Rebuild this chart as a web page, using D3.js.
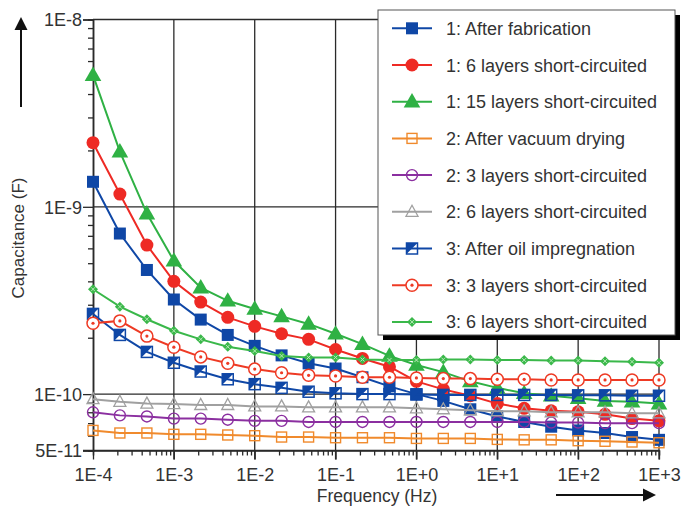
<!DOCTYPE html>
<html>
<head>
<meta charset="utf-8">
<script src="https://cdn.jsdelivr.net/npm/d3@7"></script>
<style>
  html, body { margin: 0; padding: 0; background: #fff; }
  svg { display: block; font-family: "Liberation Sans", Arial, sans-serif; }
</style>
</head>
<body>
<svg id="chart" width="682" height="512"></svg>
<script>
// ---------- DATA ----------
const frequencies = [1e-4, 2.15e-4, 4.64e-4, 1e-3, 2.15e-3, 4.64e-3, 1e-2, 2.15e-2, 4.64e-2, 1e-1, 2.15e-1,
                     4.64e-1, 1, 2.15, 4.64, 10, 21.5, 46.4, 100, 215, 464, 1000];

const s1AfterFab   = [13.6e-10, 7.2e-10, 4.6e-10, 3.2e-10, 2.5e-10, 2.07e-10, 1.81e-10, 1.61e-10, 1.46e-10, 1.37e-10, 1.23e-10,
                      1.10e-10, 1.0e-10, 0.92e-10, 0.83e-10, 0.76e-10, 0.71e-10, 0.67e-10, 0.64e-10, 0.62e-10, 0.59e-10, 0.57e-10];
const s1Six        = [22e-10, 11.7e-10, 6.25e-10, 4.0e-10, 3.1e-10, 2.57e-10, 2.3e-10, 2.1e-10, 1.96e-10, 1.73e-10, 1.55e-10,
                      1.40e-10, 1.17e-10, 1.06e-10, 0.98e-10, 0.89e-10, 0.84e-10, 0.815e-10, 0.805e-10, 0.78e-10, 0.74e-10, 0.72e-10];
const s1Fifteen    = [50.5e-10, 19.7e-10, 9.2e-10, 5.15e-10, 3.7e-10, 3.15e-10, 2.85e-10, 2.6e-10, 2.37e-10, 2.1e-10, 1.85e-10,
                      1.60e-10, 1.43e-10, 1.31e-10, 1.17e-10, 1.08e-10, 1.01e-10, 0.98e-10, 0.95e-10, 0.92e-10, 0.91e-10, 0.89e-10];
const s2Vacuum     = [0.64e-10, 0.62e-10, 0.62e-10, 0.61e-10, 0.61e-10, 0.605e-10, 0.60e-10, 0.59e-10, 0.59e-10, 0.585e-10, 0.585e-10,
                      0.585e-10, 0.58e-10, 0.58e-10, 0.58e-10, 0.573e-10, 0.57e-10, 0.57e-10, 0.564e-10, 0.56e-10, 0.555e-10, 0.55e-10];
const s2Three      = [0.80e-10, 0.77e-10, 0.76e-10, 0.74e-10, 0.74e-10, 0.73e-10, 0.72e-10, 0.72e-10, 0.71e-10, 0.71e-10, 0.71e-10,
                      0.71e-10, 0.71e-10, 0.71e-10, 0.71e-10, 0.71e-10, 0.71e-10, 0.705e-10, 0.705e-10, 0.70e-10, 0.70e-10, 0.70e-10];
const s2Six        = [0.94e-10, 0.91e-10, 0.89e-10, 0.885e-10, 0.875e-10, 0.875e-10, 0.86e-10, 0.86e-10, 0.85e-10, 0.85e-10, 0.85e-10,
                      0.85e-10, 0.84e-10, 0.83e-10, 0.82e-10, 0.81e-10, 0.81e-10, 0.80e-10, 0.80e-10, 0.80e-10, 0.79e-10, 0.79e-10];
const s3Oil        = [2.68e-10, 2.07e-10, 1.68e-10, 1.47e-10, 1.32e-10, 1.20e-10, 1.13e-10, 1.08e-10, 1.03e-10, 1.01e-10, 1.0e-10,
                      1.0e-10, 0.995e-10, 0.99e-10, 0.99e-10, 0.99e-10, 0.99e-10, 0.99e-10, 0.985e-10, 0.985e-10, 0.98e-10, 0.98e-10];
const s3Three      = [2.39e-10, 2.46e-10, 2.04e-10, 1.78e-10, 1.58e-10, 1.46e-10, 1.36e-10, 1.30e-10, 1.26e-10, 1.25e-10, 1.23e-10,
                      1.23e-10, 1.22e-10, 1.21e-10, 1.21e-10, 1.20e-10, 1.20e-10, 1.19e-10, 1.19e-10, 1.19e-10, 1.19e-10, 1.19e-10];
const s3Six        = [3.63e-10, 2.93e-10, 2.51e-10, 2.18e-10, 1.96e-10, 1.79e-10, 1.70e-10, 1.60e-10, 1.57e-10, 1.57e-10, 1.53e-10,
                      1.52e-10, 1.52e-10, 1.53e-10, 1.53e-10, 1.52e-10, 1.52e-10, 1.51e-10, 1.51e-10, 1.50e-10, 1.49e-10, 1.47e-10];

const seriesNames = ["1: After fabrication", "1: 6 layers short-circuited", "1: 15 layers short-circuited",
                     "2: After vacuum drying", "2: 3 layers short-circuited", "2: 6 layers short-circuited",
                     "3: After oil impregnation", "3: 3 layers short-circuited", "3: 6 layers short-circuited"];
const seriesColors = ["#0f47a6", "#ee2a24", "#2fb144", "#f08a2c", "#8b2fa0", "#a0a0a0", "#0f47a6", "#ee3a24", "#3ab84a"];
const seriesMarkers = ["square", "circle", "triangle", "squareOpen", "circleOpen", "triangleOpen", "squareHalf", "circleDot", "diamond"];
const seriesValues = [s1AfterFab, s1Six, s1Fifteen, s2Vacuum, s2Three, s2Six, s3Oil, s3Three, s3Six];

const xTickValues = [1e-4, 1e-3, 1e-2, 1e-1, 1, 10, 100, 1000];
const xTickLabels = ["1E-4", "1E-3", "1E-2", "1E-1", "1E+0", "1E+1", "1E+2", "1E+3"];
const yTickValues = [1e-8, 1e-9, 1e-10, 5e-11];
const yTickLabels = ["1E-8", "1E-9", "1E-10", "5E-11"];
const xAxisTitle = "Frequency (Hz)";
const yAxisTitle = "Capacitance (F)";

// ---------- LAYOUT ----------
const svg = d3.select("#chart");
const plotL = 93, plotR = 659, plotT = 19.5, plotB = 450.5;
const x = d3.scaleLog().domain([1e-4, 1e3]).range([plotL, plotR]);
const y = d3.scaleLog().domain([5e-11, 1e-8]).range([plotB, plotT]);
const textColor = "#333";
const gridColor = "#2a2a2a";

// minor tick values
const xMinor = [];
for (let e = -4; e < 3; e++) for (let m = 2; m <= 9; m++) xMinor.push(m * Math.pow(10, e));
const yMinor = [];
for (let m = 6; m <= 9; m++) yMinor.push(m * 1e-11);
for (let e = -10; e < -8; e++) for (let m = 2; m <= 9; m++) yMinor.push(m * Math.pow(10, e));

// gridlines
const grid = svg.append("g");
grid.selectAll("line.v").data(xTickValues.slice(1)).enter().append("line")
  .attr("x1", d => x(d)).attr("x2", d => x(d)).attr("y1", plotT).attr("y2", plotB + 9)
  .attr("stroke", gridColor).attr("stroke-width", 1.3);
grid.selectAll("line.h").data([1e-8, 1e-9, 1e-10]).enter().append("line")
  .attr("x1", plotL).attr("x2", plotR).attr("y1", d => y(d)).attr("y2", d => y(d))
  .attr("stroke", gridColor).attr("stroke-width", 1.3);

// axes
const xAxisG = svg.append("g").attr("transform", `translate(0,${plotB})`)
  .call(d3.axisBottom(x).tickValues(xTickValues).tickFormat((d, i) => xTickLabels[i]).tickSize(9).tickPadding(9));
const xMinorG = svg.append("g").attr("transform", `translate(0,${plotB})`)
  .call(d3.axisBottom(x).tickValues(xMinor).tickFormat("").tickSize(5));
const yAxisG = svg.append("g").attr("transform", `translate(${plotL},0)`)
  .call(d3.axisLeft(y).tickValues(yTickValues).tickFormat((d, i) => yTickLabels[i]).tickSize(10).tickPadding(1));
const yMinorG = svg.append("g").attr("transform", `translate(${plotL},0)`)
  .call(d3.axisLeft(y).tickValues(yMinor).tickFormat("").tickSize(5));

[xAxisG, xMinorG, yAxisG, yMinorG].forEach(g => {
  g.select(".domain").attr("stroke", gridColor).attr("stroke-width", 1.5);
  g.selectAll(".tick line").attr("stroke", gridColor).attr("stroke-width", 1.3);
  g.selectAll(".tick text").attr("fill", textColor).style("font-size", "18px")
    .style("font-family", '"Liberation Sans", Arial, sans-serif');
});
xAxisG.select(".domain").attr("d", `M${plotL - 10},0H${plotR}`);
xAxisG.selectAll(".tick text").attr("dy", "0.68em");
yAxisG.selectAll(".tick text").attr("dy", "0.36em");

// axis titles
svg.append("text").attr("x", 377).attr("y", 502).attr("text-anchor", "middle")
  .attr("fill", textColor).style("font-size", "17.5px").text(xAxisTitle);
svg.append("text").attr("transform", "translate(24,238) rotate(-90)").attr("text-anchor", "middle")
  .attr("fill", textColor).style("font-size", "17px").text(yAxisTitle);

// arrows
svg.append("line").attr("x1", 21).attr("x2", 21).attr("y1", 107).attr("y2", 27)
  .attr("stroke", "#111").attr("stroke-width", 2);
svg.append("path").attr("d", "M21,17 L14.5,30 L27.5,30 Z").attr("fill", "#111");
svg.append("line").attr("x1", 556).attr("x2", 645).attr("y1", 495).attr("y2", 495)
  .attr("stroke", "#111").attr("stroke-width", 2);
svg.append("path").attr("d", "M656,495 L643,488.5 L643,501.5 Z").attr("fill", "#111");

// ---------- MARKERS ----------
function drawMarker(g, type, color, cx, cy) {
  const m = g.append("g").attr("transform", `translate(${cx},${cy})`);
  switch (type) {
    case "square":
      m.append("rect").attr("x", -6).attr("y", -6).attr("width", 12).attr("height", 12).attr("fill", color);
      break;
    case "circle":
      m.append("circle").attr("r", 6.5).attr("fill", color);
      break;
    case "triangle":
      m.append("path").attr("d", d3.symbol(d3.symbolTriangle, 120)()).attr("transform", "translate(0,1)").attr("fill", color);
      break;
    case "squareOpen":
      m.append("rect").attr("x", -5).attr("y", -5).attr("width", 10).attr("height", 10)
        .attr("fill", "none").attr("stroke", color).attr("stroke-width", 1.4);
      break;
    case "circleOpen":
      m.append("circle").attr("r", 5.5).attr("fill", "none").attr("stroke", color).attr("stroke-width", 1.4);
      break;
    case "triangleOpen":
      m.append("path").attr("d", "M0,-6.5 L6,4.5 L-6,4.5 Z").attr("fill", "none")
        .attr("stroke", color).attr("stroke-width", 1.3);
      break;
    case "squareHalf":
      m.append("path").attr("d", "M-5.5,-5.5 L5.5,-5.5 L-5.5,5.5 Z").attr("fill", color);
      m.append("rect").attr("x", -5.5).attr("y", -5.5).attr("width", 11).attr("height", 11)
        .attr("fill", "none").attr("stroke", color).attr("stroke-width", 1.5);
      break;
    case "circleDot":
      m.append("circle").attr("r", 6).attr("fill", "#fff").attr("stroke", color).attr("stroke-width", 1.5);
      m.append("circle").attr("r", 1.6).attr("fill", color);
      break;
    case "diamond":
      m.append("path").attr("d", "M0,-5 L5,0 L0,5 L-5,0 Z").attr("fill", color);
      m.append("path").attr("d", "M-2,-2 L2,2 M-2,2 L2,-2").attr("stroke", "#b8e8b8").attr("stroke-width", 1);
      break;
  }
}

// ---------- SERIES ----------
const line = d3.line().x(d => x(d[0])).y(d => y(d[1]));
seriesValues.forEach((vals, si) => {
  const pts = frequencies.map((f, i) => [f, vals[i]]);
  const g = svg.append("g");
  g.append("path").datum(pts).attr("d", line).attr("fill", "none")
    .attr("stroke", seriesColors[si]).attr("stroke-width", 2);
  pts.forEach(p => drawMarker(g, seriesMarkers[si], seriesColors[si], x(p[0]), y(p[1])));
});

// ---------- LEGEND ----------
const lg = svg.append("g");
lg.append("rect").attr("x", 383).attr("y", 15).attr("width", 297).attr("height", 325).attr("fill", "#000");
lg.append("rect").attr("x", 378).attr("y", 10).attr("width", 297).attr("height", 325)
  .attr("fill", "#fff").attr("stroke", "#555").attr("stroke-width", 1);
seriesNames.forEach((name, i) => {
  const cy = 28.3 + i * 36.7;
  lg.append("line").attr("x1", 392).attr("x2", 432).attr("y1", cy).attr("y2", cy)
    .attr("stroke", seriesColors[i]).attr("stroke-width", 2);
  drawMarker(lg, seriesMarkers[i], seriesColors[i], 412, cy);
  lg.append("text").attr("x", 446).attr("y", cy + 6.5).attr("fill", textColor)
    .style("font-size", "18px").text(name);
});
</script>
</body>
</html>
